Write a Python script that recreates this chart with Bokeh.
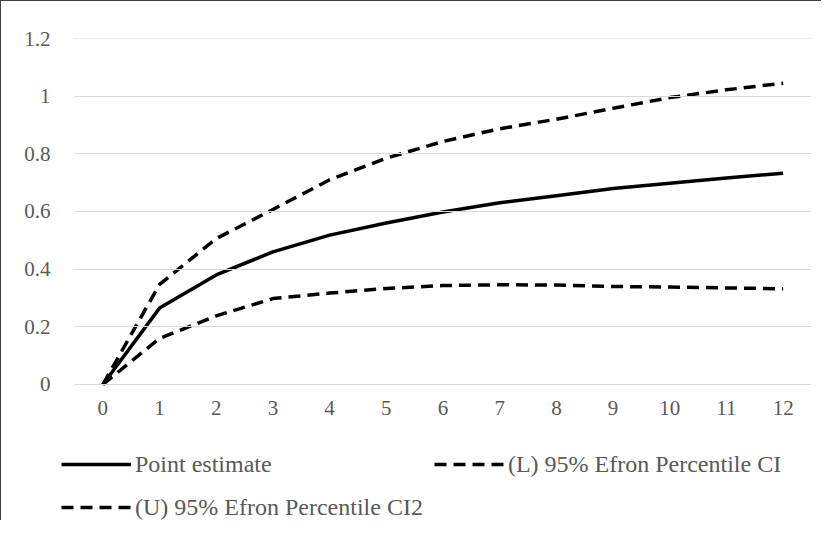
from bokeh.plotting import figure
from bokeh.models import ColumnDataSource, FixedTicker, Legend, LegendItem, LinearAxis
from bokeh.embed import file_html
from bokeh.resources import INLINE

periods = [0, 1, 2, 3, 4, 5, 6, 7, 8, 9, 10, 11, 12]
point_estimate = [0, 0.265, 0.38, 0.46, 0.518, 0.56, 0.598, 0.63, 0.655, 0.68, 0.698, 0.716, 0.733]
lower_ci = [0, 0.16, 0.238, 0.298, 0.317, 0.333, 0.343, 0.346, 0.345, 0.34, 0.338, 0.335, 0.332]
upper_ci = [0, 0.347, 0.506, 0.607, 0.71, 0.785, 0.843, 0.887, 0.92, 0.958, 0.995, 1.022, 1.045]
y_ticks = [0, 0.2, 0.4, 0.6, 0.8, 1.0, 1.2]
labels = ["Point estimate", "(L) 95% Efron Percentile CI", "(U) 95% Efron Percentile CI2"]

FONT = "'Liberation Serif', serif"
GREY = "#595959"

src = ColumnDataSource(dict(x=periods, pe=point_estimate, lo=lower_ci, up=upper_ci))

# frame spans the legend area too; x axis is drawn at y = 0 inside it
p = figure(frame_width=750, frame_height=482, output_backend="svg", toolbar_location=None,
           x_range=(-0.7293, 12.5), y_range=(-0.4717, 1.2), x_axis_location="above",
           min_border_left=60, min_border_right=10, min_border_top=37, min_border_bottom=0)
p.styles = {"border-left": "1px solid #404040", "border-top": "1px solid #404040",
            "box-sizing": "border-box"}
p.outline_line_color = None
p.background_fill_color = "white"
p.border_fill_color = "white"

r1 = p.line("x", "pe", source=src, line_color="black", line_width=3.5, line_join="round")
r2 = p.line("x", "lo", source=src, line_color="black", line_width=3.5, line_dash="12 7")
r3 = p.line("x", "up", source=src, line_color="black", line_width=3.5, line_dash="12 7")

p.xgrid.visible = False
p.ygrid.visible = False

# main y axis: labels only
p.yaxis.ticker = FixedTicker(ticks=y_ticks)
p.yaxis.major_label_overrides = {0: "0", 0.2: "0.2", 0.4: "0.4", 0.6: "0.6", 0.8: "0.8", 1.0: "1", 1.2: "1.2"}
p.yaxis.major_tick_line_color = None
p.yaxis.axis_line_color = None
p.yaxis.major_label_standoff = 5

# second y axis at the left end of the category area; its inward ticks act as gridlines
grid_axis = LinearAxis(ticker=FixedTicker(ticks=y_ticks), fixed_location=-0.5,
                       major_tick_in=737, major_tick_out=0,
                       major_tick_line_color="#d9d9d9", major_tick_line_width=1,
                       minor_tick_line_color=None, axis_line_color=None,
                       major_label_standoff=0, major_label_text_font_size="1px",
                       major_label_text_alpha=0)
p.add_layout(grid_axis, "left")

p.xaxis.fixed_location = 0
p.xaxis.ticker = FixedTicker(ticks=periods)
p.xaxis.major_tick_line_color = None
p.xaxis.axis_line_color = None
p.xaxis.major_label_standoff = -37

for ax in (p.xaxis, p.yaxis):
    ax.minor_tick_line_color = None
    ax.major_label_text_font = FONT
    ax.major_label_text_font_size = "21px"
    ax.major_label_text_color = GREY

legend = Legend(items=[LegendItem(label=labels[0], renderers=[r1]),
                       LegendItem(label=labels[1], renderers=[r2]),
                       LegendItem(label=labels[2], renderers=[r3])],
                orientation="horizontal", ncols=2, location=(0, -3),
                glyph_width=70, glyph_height=32, label_height=32, label_width=250,
                label_standoff=4, spacing=11, padding=0, margin=0,
                label_text_font=FONT, label_text_font_size="24px", label_text_color=GREY,
                border_line_color=None, background_fill_alpha=0)
p.add_layout(legend, "center")

open("out.html", "w").write(file_html(p, INLINE))
